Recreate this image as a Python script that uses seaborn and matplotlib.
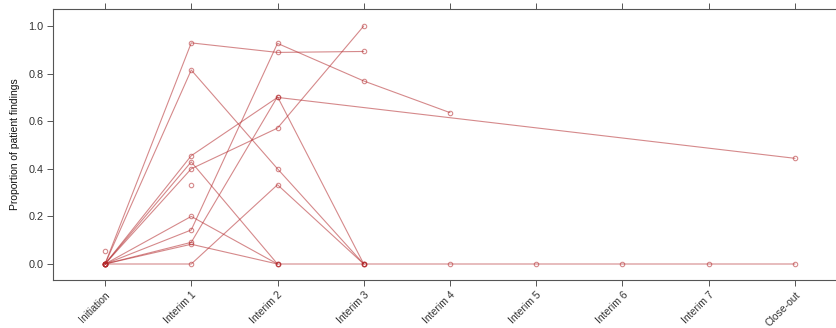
import numpy as np
import pandas as pd
import matplotlib
matplotlib.use("Agg")
import matplotlib.pyplot as plt
import seaborn as sns

visits = ["Initiation", "Interim 1", "Interim 2", "Interim 3", "Interim 4",
          "Interim 5", "Interim 6", "Interim 7", "Close-out"]

N = None
site_a = [0.0, 0.929, 0.889, 0.893, N, N, N, N, N]
site_b = [0.0, 0.143, 0.927, 0.769, 0.636, N, N, N, N]
site_c = [0.0, 0.815, 0.400, 0.0, N, N, N, N, N]
site_d = [0.0, 0.455, 0.700, N, N, N, N, N, 0.444]
site_e = [0.0, 0.400, 0.571, 1.0, N, N, N, N, N]
site_f = [0.0, 0.429, 0.0, N, N, N, N, N, N]
site_g = [0.0, 0.200, 0.0, N, N, N, N, N, N]
site_h = [0.0, 0.083, 0.0, 0.0, 0.0, 0.0, 0.0, 0.0, 0.0]
site_i = [0.0, 0.0, 0.333, 0.0, N, N, N, N, N]
site_j = [0.0, 0.091, 0.703, 0.0, N, N, N, N, N]
site_k = [0.053, N, N, N, N, N, N, N, N]
site_l = [N, 0.333, N, N, N, N, N, N, N]

sites = {"A": site_a, "B": site_b, "C": site_c, "D": site_d, "E": site_e,
         "F": site_f, "G": site_g, "H": site_h, "I": site_i, "J": site_j,
         "K": site_k, "L": site_l}

rows = []
for name, vals in sites.items():
    for i, v in enumerate(vals):
        if v is not None:
            rows.append({"site": name, "visit": i, "prop": v})
df = pd.DataFrame(rows)

sns.set_style("white")
plt.rcParams["font.family"] = ["Liberation Sans", "DejaVu Sans"]

fig = plt.figure(figsize=(8.37, 3.28), dpi=100)
ax = fig.add_axes([53 / 837, 1 - 280 / 328, 1 - 53 / 837, (280 - 9) / 328])

col = "#b3292c"
sns.lineplot(data=df, x="visit", y="prop", units="site", estimator=None,
             color=col, alpha=0.55, linewidth=0.8, marker="o", markersize=3.2,
             markerfacecolor="none", markeredgecolor=col, markeredgewidth=0.8,
             sort=False, ax=ax, legend=False)

ax.set_xlim(-52 / 86.25, (837 - 105) / 86.25)
ax.set_ylim(-16 / 238, 255 / 238)

ax.set_xticks(range(len(visits)))
ax.set_xticklabels(visits, rotation=45, ha="right", rotation_mode="anchor",
                   fontsize=7.5, color="#333333")
ax.set_yticks([0, 0.2, 0.4, 0.6, 0.8, 1.0])
ax.set_yticklabels(["0.0", "0.2", "0.4", "0.6", "0.8", "1.0"], fontsize=7.8,
                   color="#333333")
ax.set_xlabel("")
ax.set_ylabel("Proportion of patient findings", fontsize=7.5, color="#111111",
              labelpad=6)

for s in ["left", "bottom", "top"]:
    ax.spines[s].set_color("#555555")
    ax.spines[s].set_linewidth(0.8)
ax.spines["right"].set_visible(False)

ax.tick_params(axis="x", which="both", bottom=True, top=True, direction="out",
               length=4, width=0.7, color="#555555", pad=3)
ax.tick_params(axis="y", which="both", left=True, right=False, direction="out",
               length=4, width=0.7, color="#555555", pad=3)
ax.grid(False)

fig.savefig("out.png", dpi=100)
